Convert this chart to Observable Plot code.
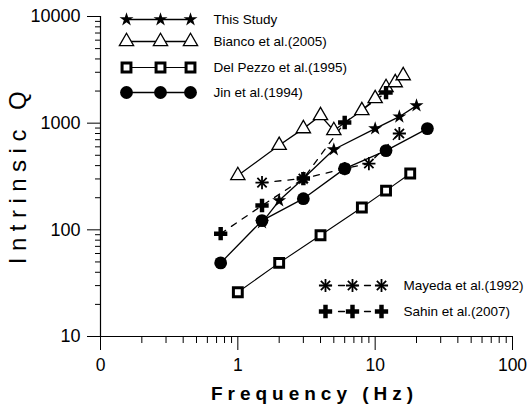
<!DOCTYPE html>
<html>
<head>
<meta charset="utf-8">
<script src="https://cdn.jsdelivr.net/npm/d3@7"></script>
<script src="https://cdn.jsdelivr.net/npm/@observablehq/plot@0.6"></script>
<style>
  html, body { margin: 0; padding: 0; background: #fff; }
  #chart svg { display: block; }
</style>
</head>
<body>
<div id="chart"></div>
<script>
// ---- Data ----
const thisStudyF = [1.5, 2, 3, 5, 10, 15, 20];
const thisStudyQ = [117, 188, 303, 566, 889, 1150, 1460];

const biancoF = [1, 2, 3, 4, 5, 8, 10, 12, 14, 16];
const biancoQ = [323, 620, 889, 1178, 853, 1313, 1700, 2160, 2400, 2790];

const delPezzoF = [1, 2, 4, 8, 12, 18];
const delPezzoQ = [26, 49, 89, 162, 233, 337];

const jinF = [0.75, 1.5, 3, 6, 12, 24];
const jinQ = [49, 122, 196, 375, 553, 889];

const mayedaF = [1.5, 3, 6, 9, 15];
const mayedaQ = [277, 303, 375, 418, 800];

const sahinF = [0.75, 1.5, 3, 6, 12];
const sahinQ = [92, 169, 302, 1014, 1937];

const seriesNames = ["This Study", "Bianco et al.(2005)", "Del Pezzo et al.(1995)", "Jin et al.(1994)", "Mayeda et al.(1992)", "Sahin et al.(2007)"];

const xTicks = [0.1, 1, 10, 100];
const xTickLabels = ["0", "1", "10", "100"];
const yTicks = [10, 100, 1000, 10000];
const yTickLabels = ["10", "100", "1000", "10000"];

const xTitle = "Frequency (Hz)";
const yTitle = "Intrinsic Q";

// ---- Layout ----
const W = 529, H = 413;
const mL = 100, mR = 17, mT = 16, mB = 77;
const xPix = d3.scaleLog([0.1, 100], [mL, W - mR]);
const yPix = d3.scaleLog([10, 10000], [H - mB, mT]);

const table = (F, Q) => F.map((f, i) => ({f, q: Q[i]}));
const thisStudy = table(thisStudyF, thisStudyQ);
const bianco = table(biancoF, biancoQ);
const delPezzo = table(delPezzoF, delPezzoQ);
const jin = table(jinF, jinQ);
const mayeda = table(mayedaF, mayedaQ);
const sahin = table(sahinF, sahinQ);

// minor ticks (2..9 in each decade)
const minorOf = (lo, hi) => {
  const out = [];
  for (let d = lo; d < hi; d *= 10) for (let k = 2; k <= 9; k++) out.push(d * k);
  return out;
};
const xMinor = minorOf(0.1, 100);
const yMinor = minorOf(10, 10000);
const xLab = new Map(xTicks.map((t, i) => [t, xTickLabels[i]]));
const yLab = new Map(yTicks.map((t, i) => [t, yTickLabels[i]]));

// styles per series
const sty = {
  star:   {symbol: "star", fill: "black", r: 4.4},
  tri:    {symbol: "triangle", fill: "white", stroke: "black", strokeWidth: 1.3, r: 5.3},
  sq:     {symbol: "square", fill: "white", stroke: "black", strokeWidth: 3, r: 5},
  circ:   {symbol: "circle", fill: "black", r: 6.4},
  cross:  {symbol: "cross", fill: "black", r: 5.6},
};

// legend layout (pixel positions converted into data space)
const topRowsY = [19, 41, 67, 92];
const topMarkX = [126, 160, 190];
const topTextX = 213;
const botRowsY = [285, 311];
const botMarkX = [325, 352, 381];
const botTextX = 403;

const legRow = (xs, y) => xs.map(x => ({f: xPix.invert(x), q: yPix.invert(y)}));
const lgThis = legRow(topMarkX, topRowsY[0]);
const lgBianco = legRow(topMarkX, topRowsY[1]);
const lgDelPezzo = legRow(topMarkX, topRowsY[2]);
const lgJin = legRow(topMarkX, topRowsY[3]);
const lgMayeda = legRow(botMarkX, botRowsY[0]);
const lgSahin = legRow(botMarkX, botRowsY[1]);
const lgText = [
  ...seriesNames.slice(0, 4).map((n, i) => ({name: n, f: xPix.invert(topTextX), q: yPix.invert(topRowsY[i])})),
  ...seriesNames.slice(4).map((n, i) => ({name: n, f: xPix.invert(botTextX), q: yPix.invert(botRowsY[i])}))
];

const solid = (data, w = 1.3) => Plot.line(data, {x: "f", y: "q", stroke: "black", strokeWidth: w});
const dashed = (data) => Plot.line(data, {x: "f", y: "q", stroke: "black", strokeWidth: 1.3, strokeDasharray: "6,7"});
const dots = (data, s) => Plot.dot(data, {x: "f", y: "q", ...s});
const mayedaDots = (data) => [
  Plot.dot(data, {x: "f", y: "q", symbol: "plus", stroke: "black", strokeWidth: 1.8, r: 4.3}),
  Plot.dot(data, {x: "f", y: "q", symbol: "times", stroke: "black", strokeWidth: 1.8, r: 4.3})
];

const plot = Plot.plot({
  width: W, height: H,
  marginLeft: mL, marginRight: mR, marginTop: mT, marginBottom: mB,
  style: {fontFamily: "'Liberation Sans', Arial, sans-serif", background: "#fff", color: "#000", overflow: "visible"},
  x: {type: "log", domain: [0.1, 100]},
  y: {type: "log", domain: [10, 10000]},
  marks: [
    // axes
    Plot.axisX(xTicks, {tickSize: 14, tickPadding: 8, tickFormat: d => xLab.get(d), fontSize: 17.5, label: null, strokeWidth: 1}),
    Plot.axisX(xMinor, {tickSize: 7, tickFormat: () => "", label: null, strokeWidth: 1}),
    Plot.axisY(yTicks, {tickSize: 13, tickPadding: 7, tickFormat: d => yLab.get(d), fontSize: 18, label: null, strokeWidth: 1}),
    Plot.axisY(yMinor, {tickSize: 5, tickFormat: () => "", label: null, strokeWidth: 1}),
    Plot.ruleY([10], {x1: 0.1, x2: 100, stroke: "black", strokeWidth: 1.2}),
    Plot.ruleX([0.1], {y1: 10, y2: 10000, stroke: "black", strokeWidth: 1.2}),

    // titles
    Plot.text([yTitle], {frameAnchor: "left", textAnchor: "middle", rotate: -90, dx: -82, dy: -2, fontSize: 24, fill: "black"}),
    Plot.text([xTitle], {frameAnchor: "bottom", textAnchor: "middle", dx: 8, dy: 63, fontSize: 19, fontWeight: "bold", fill: "black"}),

    // series lines
    solid(delPezzo, 1.1),
    solid(bianco),
    solid(jin),
    solid(thisStudy),
    dashed(mayeda),
    dashed(sahin),

    // series markers
    dots(delPezzo, sty.sq),
    dots(bianco, sty.tri),
    dots(jin, sty.circ),
    ...mayedaDots(mayeda),
    dots(thisStudy, sty.star),
    dots(sahin, sty.cross),

    // legend
    solid(lgThis), dots(lgThis, sty.star),
    solid(lgBianco), dots(lgBianco, sty.tri),
    solid(lgDelPezzo, 1.1), dots(lgDelPezzo, sty.sq),
    solid(lgJin), dots(lgJin, sty.circ),
    dashed(lgMayeda), ...mayedaDots(lgMayeda),
    dashed(lgSahin), dots(lgSahin, sty.cross),
    Plot.text(lgText, {x: "f", y: "q", text: "name", textAnchor: "start", fontSize: 13.5, fill: "black"})
  ]
});

document.getElementById("chart").appendChild(plot);

d3.select(plot).selectAll("text").each(function() {
  const t = this.textContent;
  if (t === yTitle) d3.select(this).style("letter-spacing", "6.5px");
  if (t === xTitle) d3.select(this).style("letter-spacing", "5px");
});
</script>
</body>
</html>
